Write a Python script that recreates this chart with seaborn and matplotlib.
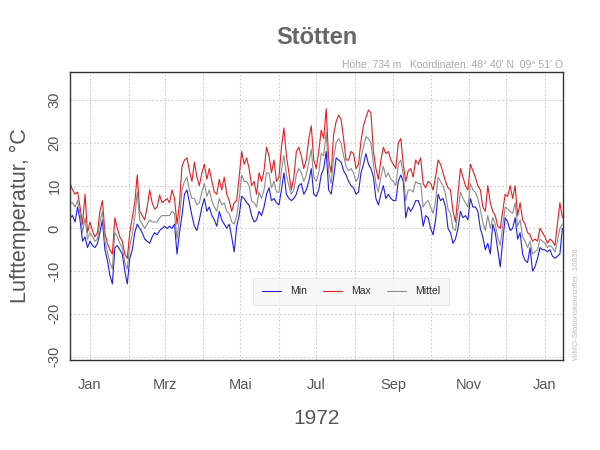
import numpy as np
import pandas as pd
import matplotlib
matplotlib.use("Agg")
import matplotlib.pyplot as plt
import seaborn as sns

# ---- data (2-day sampling, starting 1971-12-16) ----
start_date = "1971-12-16"
step_days = 2

t_max = [10.5, 9, 8, 8.5, 5, 1, 8, -1,
         1.5, -0.5, -2, -1, 4, 6.5, -1, -3.5, -5, -6, 2.5, 0, -2, -3, -6, -7,
         -1, 2.5, 6, 12.5, 4, 3, 2, 5, 9, 6, 4.5, 5, 7.8, 6,
         6.5, 7, 6, 9, 7, 1, 6, 14.5, 16, 16.5, 13.5, 11, 15.5, 12, 10, 13,
         15, 11.5, 14, 11, 8.5, 8, 11.5, 9, 12, 8, 6.5, 4, 6, 6.5, 12,
         18, 15, 16.5, 14, 10, 11, 8, 13, 11, 13.5, 19, 17, 13, 16, 11,
         12, 19, 23.5, 17, 13, 9, 12, 18, 19, 17, 14, 16, 21, 24, 16,
         14, 18, 23, 21, 28, 16, 13, 22, 25, 26.5, 25.5, 21, 16, 16, 18, 17.5,
         14, 15, 20.5, 24, 26, 27.7, 27, 18, 14, 11.5, 16, 19, 17.5, 18, 16,
         15, 14, 20, 21, 15, 11, 13.5, 14, 12, 16, 15, 16.5, 10.5, 9.5, 11,
         10.5, 9, 12, 16, 15, 13, 11, 9.5, 9, 4, 1.5, 8, 14, 12, 10, 9,
         15, 13.5, 12, 10, 9, 5, 4, 10, 6, 4, 3, 0.5, 0, 4, 8,
         7.5, 10, 7, 10, 3, 6, 2, 1, -1, -1.5, -3, -2.5, -3, 0, -1,
         -2, -3.5, -2.5, -3, -4, 1, 6, 2.5]

t_min = [2.5, 3, 1.5, 5, 2, -3, -2, -4.5,
         -3, -4, -4.5, -3.5, -1, 2, -5, -7.5, -11, -13, -4.5, -4, -5, -6, -10, -13,
         -7, -5, -1, 1, 0, -1, -2.5, -3, -3.5, -2, -1, -1.5, -0.5, 0,
         0.5, 0, 0.5, 0, 1, -6, -1, 3, 8, 9, 6, 3, 0.5, -0.5, 2, 5,
         7, 4, 5, 3, 2, 0.5, 4, 2, 1, 0, 1, -2, -5.5, 0.5, 3,
         7.5, 7, 6, 5.5, 3, 1.5, 2, 4, 3, 5, 8, 9.5, 6.5, 7, 6,
         5.5, 9, 13, 8, 7, 6.5, 7, 8, 10, 10.5, 8, 9, 11, 14, 8,
         7.5, 9, 12.5, 14, 18, 9, 8, 12, 16.5, 16, 15.5, 13.5, 12.5, 11, 10, 9.5,
         8, 8.5, 13, 15, 17.5, 15, 14, 12, 7, 5.5, 8, 10, 7, 8, 7,
         6.5, 6.5, 11, 12.5, 11, 2.5, 5, 4, 5, 6.5, 6.5, 5, 0.5, 3, 2.5,
         0, -1.5, 2, 8, 6.5, 7, 5, 0, -1, -3.5, -2.5, 0, 4, 2.5, 3, 2,
         7, 5, 5, 4, 0, -2, -5, -3.5, -6, 1, -1, -5, -9, -3, 2.5,
         1.5, -0.5, 0, 2.5, -2.5, -1, -6, -7.5, -8, -4.5, -10, -9, -7, -4.5, -5,
         -5, -5.5, -5, -6.5, -7, -6.5, -6, 0]

t_mean = [6, 6, 5, 6.5, 3.5, -1, 2.5, -2.5,
          -1, -2, -3, -2.5, 1.5, 4, -3, -5.5, -8, -9.5, -1, -2, -3.5, -4.5, -8, -9.5,
          -4, -1.5, 2.5, 8.5, 2, 1, 0, 1, 2, 1.5, 1.5, 1.5, 2.5, 3,
          3, 3, 3, 4, 3.5, -2.5, 2.5, 9, 11, 12, 9, 7, 7, 5.5, 6, 8.5,
          10.5, 7.5, 9, 6.5, 5, 4, 7, 5.5, 6, 4, 3.5, 1.5, 1, 3, 7,
          12.5, 11, 11, 10, 6.5, 6, 5, 8.5, 7, 9, 13, 13, 9.5, 11, 8.5,
          8.5, 13.5, 17, 12.5, 10, 8, 9, 12.5, 14, 13, 11, 12.5, 15.5, 18.5, 12,
          11, 13, 17.5, 17, 22.5, 13, 10.5, 16.5, 20, 21, 20, 17, 14.5, 13.5, 14, 13,
          11, 12, 16.5, 19, 21.5, 21, 20, 15, 10.5, 8.5, 12, 14.5, 12, 13, 11.5,
          11, 10, 15, 16, 12.5, 6.5, 9, 9, 8.5, 11, 10.5, 10.5, 5, 6, 6.5,
          5, 3.5, 6.5, 12, 11, 10, 8, 4.5, 3.5, 0, -0.5, 4, 8.5, 7, 6, 5,
          10.5, 9, 8.5, 7, 4.5, 1.5, -0.5, 3, 0, 2.5, 1, -2, -4, 0.5, 5,
          4.5, 4, 3.5, 6, 0.5, 2, -2, -3, -4.5, -3, -6, -5.5, -5, -2.5, -3,
          -3.5, -4.5, -4, -4.5, -5.5, -3, 0, 1]

series_names = ["Min", "Max", "Mittel"]
series_colors = ["#1f1fe6", "#e61e1e", "#8c8c8c"]

month_ticks = ["1972-01-01", "1972-03-01", "1972-05-01", "1972-07-01",
               "1972-09-01", "1972-11-01", "1973-01-01"]
month_labels = ["Jan", "Mrz", "Mai", "Jul", "Sep", "Nov", "Jan"]
y_ticks = [-30, -20, -10, 0, 10, 20, 30]

title = "Stötten"
subtitle = "Höhe: 734 m   Koordinaten: 48° 40' N  09° 51' O"
side_note = "WMO-Stationskennziffer: 10836"
x_title = "1972"
y_title = "Lufttemperatur, °C"

# ---- build long-form frame ----
dates = pd.date_range(start_date, periods=len(t_max), freq=f"{step_days}D")
df = pd.concat([
    pd.DataFrame({"date": dates, "temp": t_min, "series": "Min"}),
    pd.DataFrame({"date": dates, "temp": t_max, "series": "Max"}),
    pd.DataFrame({"date": dates, "temp": t_mean, "series": "Mittel"}),
], ignore_index=True)

sns.set_style("white")
plt.rcParams["font.family"] = ["Liberation Sans", "DejaVu Sans"]

fig = plt.figure(figsize=(6, 4.5), dpi=100)
ax = fig.add_axes([70 / 600, 90 / 450, 493 / 600, 288 / 450])

sns.lineplot(data=df, x="date", y="temp", hue="series", hue_order=series_names,
             palette=dict(zip(series_names, series_colors)), linewidth=0.8,
             ax=ax, legend=True, estimator=None, sort=False)

# limits
ax.set_xlim(pd.Timestamp("1971-12-16") - pd.Timedelta(hours=2),
            pd.Timestamp("1973-01-15") + pd.Timedelta(hours=12))
ax.set_ylim(-30.8, 36.6)

# grid: every month and every 10 degrees
month_starts = pd.date_range("1972-01-01", "1973-01-01", freq="MS")
for m in month_starts:
    ax.axvline(m, color="#cccccc", linestyle=(0, (1.5, 2)), linewidth=0.8, zorder=0)
for yv in y_ticks:
    ax.axhline(yv, color="#cccccc", linestyle=(0, (1.5, 2)), linewidth=0.8, zorder=0)

ax.set_xticks([pd.Timestamp(d) for d in month_ticks])
ax.set_xticklabels(month_labels)
ax.set_yticks(y_ticks)
ax.set_yticklabels([str(v) for v in y_ticks], rotation=90, va="center")
ax.tick_params(axis="both", direction="out", length=5, width=1, color="#444444",
               labelcolor="#555555", labelsize=10.5)
ax.tick_params(axis="x", pad=8)
ax.tick_params(axis="y", pad=1)
for s in ax.spines.values():
    s.set_color("#333333")
    s.set_linewidth(1)

ax.set_xlabel(x_title, fontsize=15, color="#555555", labelpad=12)
ax.set_ylabel(y_title, fontsize=15.5, color="#555555", labelpad=12)

# legend
handles, labels = ax.get_legend_handles_labels()
leg = ax.legend(handles, labels, ncol=3, loc="center",
                bbox_to_anchor=(0.570, 0.238), fontsize=7.5, frameon=True,
                handlelength=1.9, columnspacing=1.5, handletextpad=0.85,
                borderpad=0.8, borderaxespad=0, fancybox=False)
leg.get_frame().set_facecolor("#f7f7f7")
leg.get_frame().set_edgecolor("#e2e2e2")
leg.get_frame().set_linewidth(0.8)

# texts
fig.text((70 + 563) / 2 / 600, 1 - 37 / 450, title, ha="center", va="center",
         fontsize=17, fontweight="bold", color="#666666")
fig.text(563 / 600, 1 - 65 / 450, subtitle, ha="right", va="center",
         fontsize=7.5, color="#aaaaaa")
fig.text(576 / 600, 1 - 360 / 450, side_note, ha="center", va="bottom",
         rotation=90, fontsize=5.7, color="#bbbbbb")

fig.savefig("out.png", dpi=100, facecolor="white")
